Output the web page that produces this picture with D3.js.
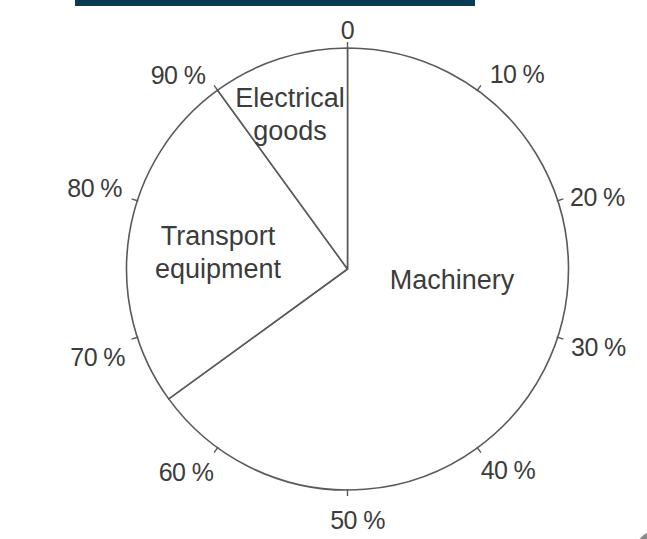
<!DOCTYPE html>
<html><head><meta charset="utf-8">
<script src="https://cdn.jsdelivr.net/npm/d3@7"></script>
<style>body{margin:0;background:#fff}svg{display:block}</style>
</head><body>
<svg id="c" width="647" height="539"></svg>
<script>
const categories = ["Machinery", "Transport equipment", "Electrical goods"];
const shares = [65, 25, 10];
const labelLines = [["Machinery"], ["Transport", "equipment"], ["Electrical", "goods"]];
const tickValues = [0, 10, 20, 30, 40, 50, 60, 70, 80, 90];
const tickLabels = ["0", "10 %", "20 %", "30 %", "40 %", "50 %", "60 %", "70 %", "80 %", "90 %"];

const svg = d3.select("#c");
const cx = 347.5, cy = 269, R = 221;
const stroke = "#5a5a5a", txt = "#3c3c3c";
const font = "Liberation Sans, Arial, sans-serif";

// top banner and corner decoration
svg.append("rect").attr("x", 75).attr("y", 0).attr("width", 400).attr("height", 6).attr("fill", "#0b3a56");
svg.append("circle").attr("cx", 656).attr("cy", 552).attr("r", 21).attr("fill", "#8a8a8a");

const g = svg.append("g").attr("transform", `translate(${cx},${cy})`);
const pct = d3.scaleLinear().domain([0, 100]).range([0, 2 * Math.PI]);
const pie = d3.pie().sort(null).value(d => d).startAngle(0).endAngle(2 * Math.PI);
const arcs = pie(shares);
const arc = d3.arc().innerRadius(0).outerRadius(R);

g.selectAll("path.slice").data(arcs).join("path")
  .attr("class", "slice").attr("d", arc)
  .attr("fill", "#fff").attr("stroke", stroke).attr("stroke-width", 1.6).attr("stroke-linejoin", "round");

// ticks
const pt = (a, r) => [r * Math.sin(a), -r * Math.cos(a)];
const tickOut = 6;
g.selectAll("line.tick").data(tickValues).join("line")
  .attr("class", "tick")
  .attr("x1", d => pt(pct(d), R - 1)[0]).attr("y1", d => pt(pct(d), R - 1)[1])
  .attr("x2", d => pt(pct(d), R + tickOut)[0]).attr("y2", d => pt(pct(d), R + tickOut)[1])
  .attr("stroke", stroke).attr("stroke-width", 1.4);

// tick labels: offsets from the tick end (layout only)
const labOff = [[0, -12], [36, -11], [34, -2], [35, 8], [27, 17], [10, 24], [-28, 19], [-34, 18], [-37, -11], [-36, -10]];
g.selectAll("text.tl").data(tickValues).join("text")
  .attr("class", "tl")
  .attr("x", (d, i) => pt(pct(d), R + tickOut)[0] + labOff[i][0])
  .attr("y", (d, i) => pt(pct(d), R + tickOut)[1] + labOff[i][1])
  .attr("text-anchor", "middle").attr("dominant-baseline", "central")
  .attr("font-family", font).attr("font-size", 25).attr("letter-spacing", -0.6)
  .attr("fill", txt).text((d, i) => tickLabels[i]);

// slice labels
const labPos = [[452, 280], [218, 252], [290, 114]];
labelLines.forEach((lines, i) => {
  const t = g.append("text").attr("text-anchor", "middle")
    .attr("font-family", font).attr("font-size", 27)
    .attr("fill", txt);
  lines.forEach((s, j) => {
    t.append("tspan").attr("x", labPos[i][0] - cx).attr("y", labPos[i][1] - cy + (j - (lines.length - 1) / 2) * 33)
      .attr("dominant-baseline", "central").text(s);
  });
});
</script>
</body></html>
